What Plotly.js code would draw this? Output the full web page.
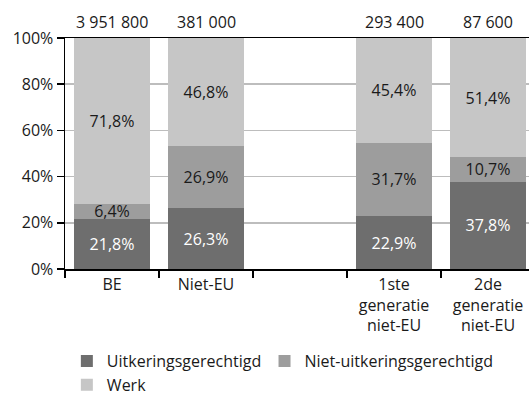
<!DOCTYPE html>
<html>
<head>
<meta charset="utf-8">
<script src="https://cdn.plot.ly/plotly-3.0.1.min.js"></script>
<style>html,body{margin:0;padding:0;background:#fff;}#chart{width:529px;height:401px;}</style>
</head>
<body>
<div id="chart"></div>
<script>
const categories = ["BE", "Niet-EU", " ", "1ste<br>generatie<br>niet-EU", "2de<br>generatie<br>niet-EU"];
const totals = ["3 951 800", "381 000", "", "293 400", "87 600"];
const uitkeringsgerechtigd = [21.8, 26.3, null, 22.9, 37.8];
const nietUitkeringsgerechtigd = [6.4, 26.9, null, 31.7, 10.7];
const werk = [71.8, 46.8, null, 45.4, 51.4];
const seriesNames = ["Uitkeringsgerechtigd", "Niet-uitkeringsgerechtigd", "Werk"];
const yTicks = [0, 20, 40, 60, 80, 100];

const FONT = "Open Sans, Noto Sans, sans-serif";
const fmt = v => v == null ? "" : v.toFixed(1).replace(".", ",") + "%";

function bar(name, vals, color, txtColor, legendId) {
  return {
    type: "bar", name: name, x: categories, y: vals, legend: legendId,
    marker: {color: color, line: {width: 0}},
    text: vals.map(fmt), textposition: "inside", insidetextanchor: "middle",
    constraintext: "none",
    insidetextfont: {family: FONT, size: 16, color: txtColor},
    hoverinfo: "none", width: 0.8
  };
}

const data = [
  bar(seriesNames[0], uitkeringsgerechtigd, "#6e6e6e", "#ffffff", "legend"),
  bar(seriesNames[1], nietUitkeringsgerechtigd, "#9d9d9d", "#1a1a1a", "legend2"),
  bar(seriesNames[2], werk, "#c6c6c6", "#1a1a1a", "legend")
];

const annotations = categories.map((c, i) => ({
  x: c, y: 100, xref: "x", yref: "y", text: totals[i], showarrow: false,
  yanchor: "bottom", yshift: 3, font: {family: FONT, size: 16, color: "#1a1a1a"}
}));

const legendFont = {family: FONT, size: 16, color: "#1a1a1a"};

const layout = {
  width: 529, height: 401,
  margin: {l: 65, r: 0, t: 38, b: 132, autoexpand: false},
  barmode: "stack",
  paper_bgcolor: "#fff", plot_bgcolor: "#fff",
  font: {family: FONT, size: 16, color: "#1a1a1a"},
  showlegend: true,
  legend: {
    orientation: "v", x: 0.004, xanchor: "left", y: -0.325, yanchor: "top",
    traceorder: "normal", tracegroupgap: 0, font: legendFont
  },
  legend2: {
    orientation: "v", x: 0.43, xanchor: "left", y: -0.325, yanchor: "top",
    traceorder: "normal", font: legendFont
  },
  xaxis: {
    type: "category", range: [-0.5, 4.436], showgrid: false,
    showline: true, linecolor: "#000", linewidth: 1.5, mirror: true,
    ticks: "outside", tickson: "boundaries", ticklen: 7, tickcolor: "#000", tickwidth: 1.5,
    tickfont: {family: FONT, size: 16, color: "#1a1a1a"}, fixedrange: true
  },
  yaxis: {
    range: [0, 100], tickvals: yTicks, ticktext: yTicks.map(v => v + "%"),
    showgrid: true, gridcolor: "#bdbdbd", gridwidth: 1.5,
    showline: true, linecolor: "#000", linewidth: 1.5,
    ticks: "outside", ticklen: 7, tickcolor: "#000", tickwidth: 1.5,
    zeroline: false,
    tickfont: {family: FONT, size: 16, color: "#1a1a1a"}, fixedrange: true
  },
  annotations: annotations
};

Plotly.newPlot("chart", data, layout, {displayModeBar: false, staticPlot: true});
</script>
</body>
</html>
